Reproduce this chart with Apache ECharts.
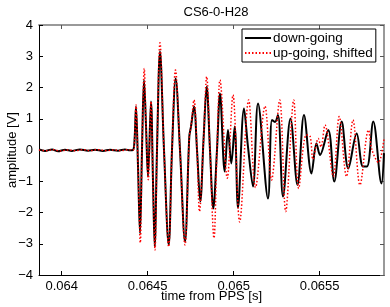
<!DOCTYPE html>
<html>
<head>
<meta charset="utf-8">
<script src="https://cdn.jsdelivr.net/npm/echarts@6/dist/echarts.min.js"></script>
<style>html,body{margin:0;padding:0;background:#fff}#c{width:390px;height:307px}</style>
</head>
<body>
<div id="c"></div>
<script>
const titleText = 'CS6-0-H28';
const xLabel = 'time from PPS [s]';
const yLabel = 'amplitude [V]';
const seriesNames = ['down-going', 'up-going, shifted'];
const xTicks = [0.064, 0.0645, 0.065, 0.0655];
const yTicks = [-4, -3, -2, -1, 0, 1, 2, 3, 4];

const downTime = [0.063868, 0.063903, 0.063944, 0.063979, 0.064019, 0.064060, 0.064106, 0.064153, 0.064194, 0.064240, 0.064281, 0.064327, 0.064368, 0.064397, 0.0644145, 0.0644233, 0.064432, 0.0644436, 0.0644552, 0.0644669, 0.0644785, 0.0644901, 0.0645017, 0.0645192, 0.0645308, 0.0645407, 0.0645541, 0.0645715, 0.0645948, 0.0646221, 0.0646413, 0.0646628, 0.0646878, 0.0647169, 0.0647419, 0.0647518, 0.0647692, 0.0647867, 0.0648058, 0.0648244, 0.064843, 0.0648622, 0.0648814, 0.0649029, 0.0649204, 0.0649477, 0.0649669, 0.0649861, 0.0650058, 0.065025, 0.0650599, 0.0650832, 0.0651123, 0.0651413, 0.0651995, 0.0652227, 0.0652402, 0.0652576, 0.0652867, 0.0653302, 0.065371, 0.0654087, 0.0654523, 0.0654814, 0.0655017, 0.06555, 0.0655849, 0.0656279, 0.0656663, 0.0657151, 0.0657518, 0.065775, 0.0658116, 0.0658593, 0.0658739];
const downAmp = [0.02, -0.03, 0.02, -0.04, 0.01, -0.03, 0.02, -0.02, 0.01, -0.03, 0.01, -0.02, 0.02, -0.01, 0.0, 0.3, 1.39, -0.5, -2.66, 0.0, 2.24, 0.8, -0.85, 1.55, -1.0, -3.09, 0.0, 3.15, 0.0, -3.04, 0.0, 2.29, 0.0, -2.93, 0.43, 0.75, 1.39, 0.0, -1.65, 0.3, 2.03, 0.0, -1.87, 0.0, 1.81, -0.69, 0.64, -0.43, 0.75, -1.85, 1.33, 0.1, -1.17, 1.49, -1.55, 0.96, 0.9, 1.12, -1.49, 1.01, -1.12, 1.12, -0.75, 0.21, -0.16, 0.64, -1.01, 0.91, -0.59, 0.53, -0.53, -0.53, 0.91, -1.07, -0.1];

const upTime = [0.063868, 0.0639087, 0.0639494, 0.0639901, 0.0640366, 0.0640773, 0.0641238, 0.0641645, 0.064211, 0.0642576, 0.0643041, 0.0643448, 0.0643855, 0.0644145, 0.0644233, 0.064432, 0.0644436, 0.064457, 0.0644669, 0.0644802, 0.0644901, 0.0645035, 0.0645192, 0.0645308, 0.0645424, 0.0645541, 0.0645715, 0.0645948, 0.0646221, 0.0646413, 0.0646616, 0.0646878, 0.0647169, 0.0647419, 0.0647518, 0.0647692, 0.0647867, 0.0648012, 0.0648244, 0.064843, 0.0648622, 0.0648854, 0.0649029, 0.0649204, 0.0649628, 0.0649959, 0.0650349, 0.0650872, 0.0651267, 0.065182, 0.0652198, 0.0652675, 0.0653024, 0.0653489, 0.065378, 0.0654221, 0.0654436, 0.0654611, 0.0654919, 0.0655076, 0.0655309, 0.0655791, 0.0656134, 0.0656558, 0.0656936, 0.0657343, 0.0657838, 0.0658042, 0.065842, 0.065874];
const upAmp = [0.0, -0.02, 0.01, -0.03, 0.0, -0.02, 0.01, -0.02, 0.01, -0.02, 0.0, -0.02, 0.01, 0.0, 0.3, 1.45, -0.5, -2.97, 0.0, 2.61, 0.8, -0.95, 1.55, -1.0, -3.2, 0.0, 3.43, 0.0, -3.1, 0.0, 2.56, 0.0, -3.04, 0.4, 0.75, 1.6, 0.0, -1.97, 0.3, 2.35, 0.0, -2.82, 0.0, 2.24, -0.9, 1.76, -2.3, 1.6, -1.2, 1.4, -0.96, 1.6, -1.97, 1.6, -1.23, 0.48, 0.45, -0.3, 0.37, 0.1, 0.8, -0.85, 1.07, -0.85, 0.96, -1.12, 0.64, 0.0, -0.4, 0.37];

const FONT = 'Liberation Sans, Arial, sans-serif';
const fmtMinus = v => String(v).replace('-', '\u2212');

const chart = echarts.init(document.getElementById('c'), null, {renderer: 'canvas'});
const pair = (t, a) => t.map((v, i) => [v, a[i]]);

chart.setOption({
  animation: false,
  backgroundColor: '#fff',
  title: {
    text: titleText, left: 211, top: 1, textAlign: 'center',
    textStyle: {fontFamily: FONT, fontSize: 13, fontWeight: 'normal', color: '#000'}
  },
  grid: {left: 39, right: 6, top: 25, bottom: 32, containLabel: false, outerBoundsMode: 'none'},
  legend: {
    left: 242, top: 29, orient: 'vertical',
    backgroundColor: '#fff', borderColor: '#000', borderWidth: 1, borderRadius: 0,
    padding: [2, 3, 2, 2], itemGap: 1, itemWidth: 26, itemHeight: 12,
    itemStyle: {opacity: 0},
    textStyle: {fontFamily: FONT, fontSize: 13.5, color: '#000', padding: [0, 0, 0, -3]},
    data: seriesNames
  },
  xAxis: [{
    type: 'value', min: 0.063868, max: 0.065874,
    name: xLabel, nameLocation: 'middle', nameGap: 15, nameMoveOverlap: false,
    nameTextStyle: {fontFamily: FONT, fontSize: 13, color: '#000'},
    axisLine: {show: true, onZero: false, lineStyle: {color: '#000', width: 1}},
    axisTick: {show: true, inside: true, length: 4, customValues: xTicks, lineStyle: {color: '#000'}},
    axisLabel: {customValues: xTicks, fontFamily: FONT, fontSize: 13, color: '#000', margin: 5,
      formatter: v => String(v)},
    splitLine: {show: false}
  }, {
    type: 'value', position: 'top', min: 0.063868, max: 0.065874,
    axisLine: {show: true, onZero: false, lineStyle: {color: '#999', width: 2}},
    axisTick: {show: true, inside: true, length: 4, customValues: xTicks, lineStyle: {color: '#555'}},
    axisLabel: {show: false}, splitLine: {show: false}
  }],
  yAxis: [{
    type: 'value', min: -4, max: 4, interval: 1,
    name: yLabel, nameLocation: 'middle', nameGap: 20, nameMoveOverlap: false,
    nameTextStyle: {fontFamily: FONT, fontSize: 13, color: '#000'},
    axisLine: {show: true, onZero: false, lineStyle: {color: '#000', width: 1}},
    axisTick: {show: true, inside: true, length: 4, lineStyle: {color: '#000'}},
    axisLabel: {fontFamily: FONT, fontSize: 13, color: '#000', margin: 6, formatter: fmtMinus},
    splitLine: {show: false}
  }, {
    type: 'value', position: 'right', min: -4, max: 4, interval: 1,
    axisLine: {show: true, onZero: false, lineStyle: {color: '#999', width: 2}},
    axisTick: {show: true, inside: true, length: 4, lineStyle: {color: '#555'}},
    axisLabel: {show: false}, splitLine: {show: false}
  }],
  series: [{
    name: seriesNames[0], type: 'line', data: pair(downTime, downAmp),
    symbol: 'none', smooth: 0.35, clip: true,
    lineStyle: {color: '#000', width: 2}, itemStyle: {color: '#000'}, z: 2
  }, {
    name: seriesNames[1], type: 'line', data: pair(upTime, upAmp),
    symbol: 'none', smooth: 0.35, clip: true,
    lineStyle: {color: '#ff0000', width: 1.5, type: [1.5, 2]}, itemStyle: {color: '#ff0000'}, z: 3
  }]
});
</script>
</body>
</html>
